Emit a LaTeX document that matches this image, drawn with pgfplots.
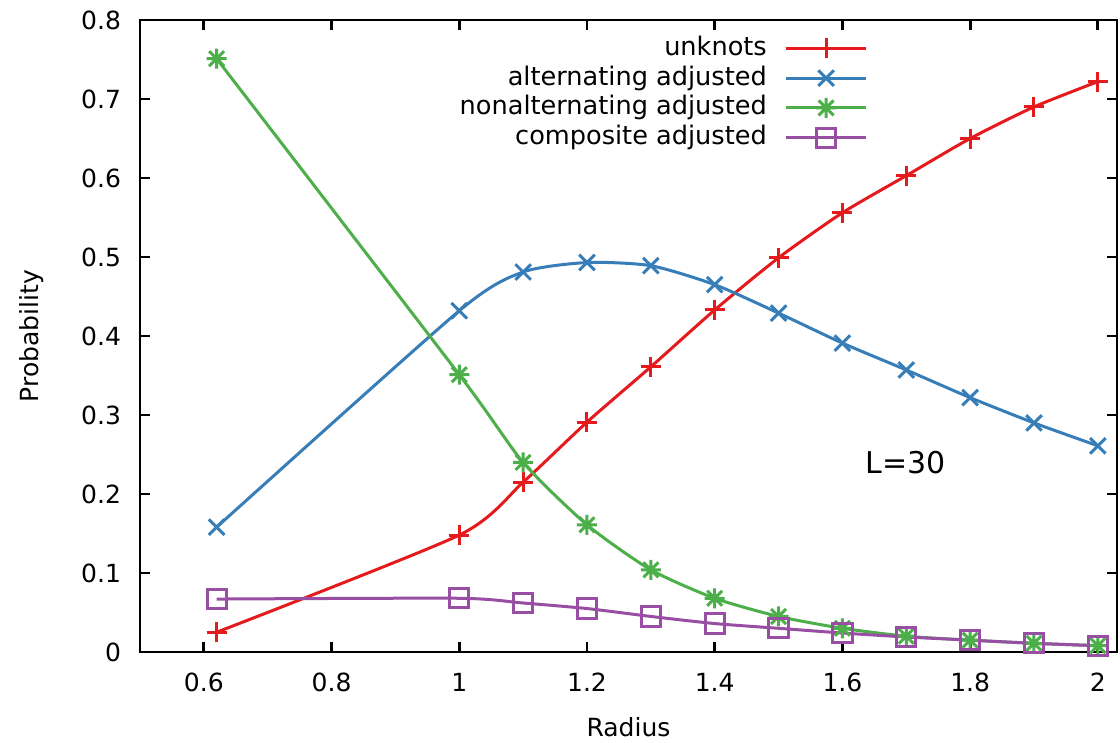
\documentclass[border=0pt]{standalone}
\usepackage{fontspec}
\setmainfont{DejaVu Sans}
\usepackage{pgfplots}
\pgfplotsset{compat=1.18}
\definecolor{cred}{RGB}{228,26,28}
\definecolor{cblue}{RGB}{55,126,184}
\definecolor{cgreen}{RGB}{77,175,74}
\definecolor{cpurple}{RGB}{152,78,163}
\pgfdeclareplotmark{plusx}{%
 \pgfpathmoveto{\pgfqpoint{-\pgfplotmarksize}{0pt}}\pgfpathlineto{\pgfqpoint{\pgfplotmarksize}{0pt}}%
 \pgfpathmoveto{\pgfqpoint{0pt}{-\pgfplotmarksize}}\pgfpathlineto{\pgfqpoint{0pt}{\pgfplotmarksize}}%
 \pgfpathmoveto{\pgfqpoint{-.75\pgfplotmarksize}{-.75\pgfplotmarksize}}\pgfpathlineto{\pgfqpoint{.75\pgfplotmarksize}{.75\pgfplotmarksize}}%
 \pgfpathmoveto{\pgfqpoint{-.75\pgfplotmarksize}{.75\pgfplotmarksize}}\pgfpathlineto{\pgfqpoint{.75\pgfplotmarksize}{-.75\pgfplotmarksize}}%
 \pgfusepathqstroke}
\begin{document}
\begin{tikzpicture}
\path[use as bounding box] (-70pt,-45.5pt) rectangle (490pt,326pt);
\begin{axis}[
  at={(0,0)}, anchor=south west,
  scale only axis, width=488.5pt, height=316pt,
  xmin=0.5, xmax=2.03, ymin=0, ymax=0.8,
  xtick={0.6,0.8,1,1.2,1.4,1.6,1.8,2},
  ytick={0,0.1,0.2,0.3,0.4,0.5,0.6,0.7,0.8},
  yticklabels={0,0.1,0.2,0.3,0.4,0.5,0.6,0.7,0.8},
  xticklabels={0.6,0.8,1,1.2,1.4,1.6,1.8,2},
  tick align=inside, major tick length=5pt,
  tick style={line width=1.4pt, black},
  axis line style={line width=1.2pt},
  /pgf/number format/assume math mode=true,
  tick label style={font=\fontsize{12.5}{14}\selectfont},
  xticklabel style={yshift=-7pt},
  yticklabel style={xshift=-6pt},
  xlabel={Radius}, ylabel={Probability},
  label style={font=\fontsize{12.5}{14}\selectfont},
  xlabel style={yshift=-6pt},
  ylabel style={yshift=12pt},
  legend cell align=right, legend plot pos=right,
  legend style={draw=none, fill=none, at={(0.745,0.978)}, anchor=north east,
    font=\fontsize{12.8}{14}\selectfont, inner sep=0pt, row sep=0.9pt,
    nodes={inner sep=1pt, text height=9.5pt, text depth=2.5pt},
    /tikz/every odd column/.append style={column sep=8pt}},
  legend image code/.code={\draw[mark repeat=2,mark phase=2,#1] plot coordinates {(0cm,0cm)(0.7cm,0cm)(1.4cm,0cm)};},
  every axis plot/.append style={line width=1.5pt, mark size=5pt, smooth, tension=0.4, mark options={solid}},
]
\addplot[cred, mark=+] coordinates {
(0.62,0.025)(1.0,0.148)(1.1,0.215)(1.2,0.291)(1.3,0.361)(1.4,0.433)(1.5,0.499)(1.6,0.556)(1.7,0.603)(1.8,0.650)(1.9,0.690)(2.0,0.722)};
\addlegendentry{unknots}
\addplot[cblue, mark=x, mark size=5.5pt] coordinates {
(0.62,0.158)(1.0,0.432)(1.1,0.481)(1.2,0.493)(1.3,0.489)(1.4,0.465)(1.5,0.429)(1.6,0.391)(1.7,0.357)(1.8,0.322)(1.9,0.290)(2.0,0.261)};
\addlegendentry{alternating adjusted}
\addplot[cgreen, mark=plusx] coordinates {
(0.62,0.751)(1.0,0.351)(1.1,0.240)(1.2,0.161)(1.3,0.104)(1.4,0.068)(1.5,0.045)(1.6,0.030)(1.7,0.020)(1.8,0.015)(1.9,0.011)(2.0,0.008)};
\addlegendentry{nonalternating adjusted}
\addplot[cpurple, mark=square, mark size=4.8pt] coordinates {
(0.62,0.067)(1.0,0.068)(1.1,0.062)(1.2,0.055)(1.3,0.045)(1.4,0.036)(1.5,0.030)(1.6,0.024)(1.7,0.019)(1.8,0.015)(1.9,0.011)(2.0,0.008)};
\addlegendentry{composite adjusted}
\node[anchor=west, font=\fontsize{15}{17}\selectfont] at (axis cs:1.625,0.24) {L=30};
\end{axis}
\end{tikzpicture}
\end{document}
